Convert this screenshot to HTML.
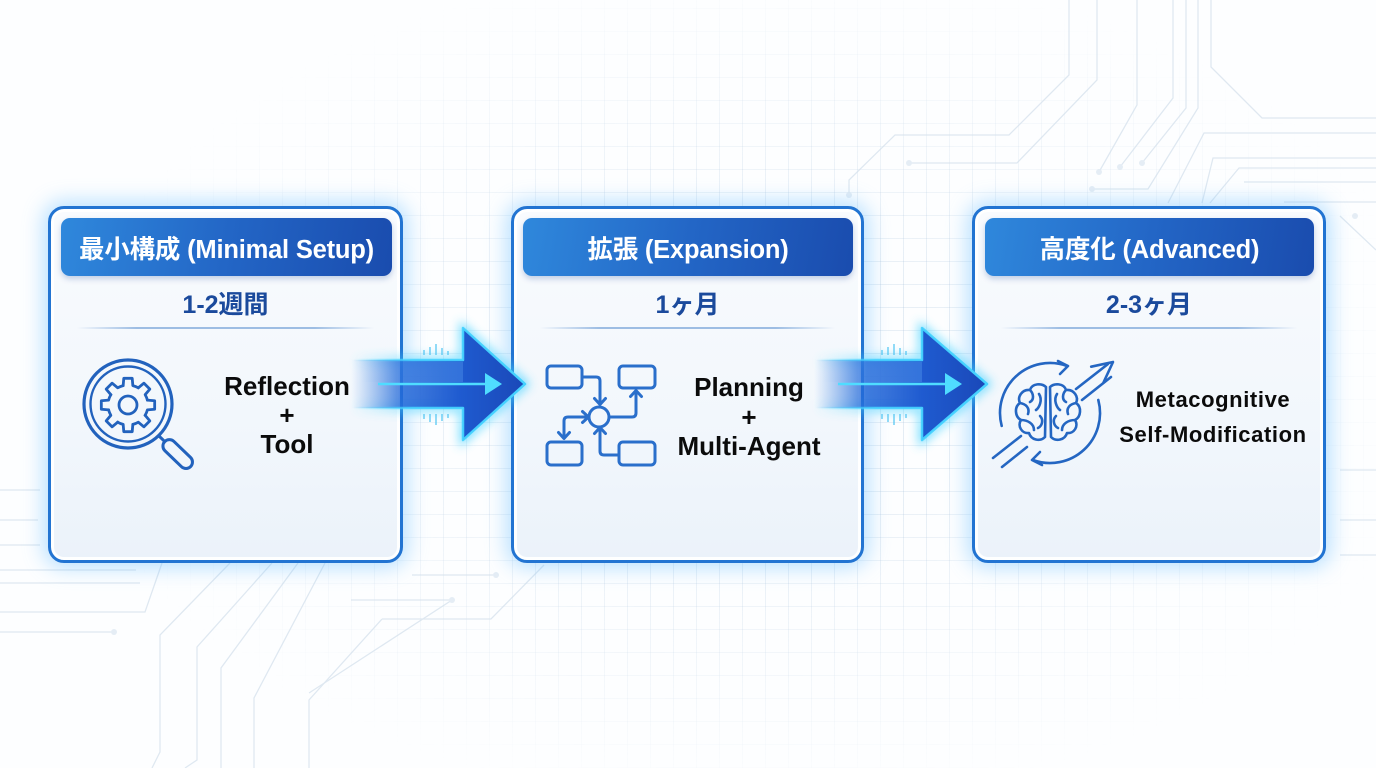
<!DOCTYPE html>
<html><head><meta charset="utf-8">
<style>
*{margin:0;padding:0;box-sizing:border-box}
html,body{width:1376px;height:768px;overflow:hidden;background:#fdfeff}
body{position:relative;font-family:"Liberation Sans","Noto Sans CJK JP",sans-serif}
.grid{position:absolute;left:0;top:0;width:1376px;height:768px;
background-image:linear-gradient(to right,rgba(160,188,215,.26) 1px,transparent 1px),linear-gradient(to bottom,rgba(160,188,215,.22) 1px,transparent 1px);
background-size:23px 23px;background-position:6px 8px;
-webkit-mask-image:radial-gradient(ellipse 50% 55% at 55% 50%,#000 30%,transparent 100%);
mask-image:radial-gradient(ellipse 50% 55% at 55% 50%,#000 30%,transparent 100%);}
.card{position:absolute;top:206px;height:357px;border:3px solid #2274d2;border-radius:16px;
background:linear-gradient(180deg,#f9fbfe 0%,#f2f7fc 60%,#ebf2fa 100%);
box-shadow:0 0 20px 5px rgba(95,185,255,.42),inset 0 0 0 3px rgba(255,255,255,.95);}
.hdr{position:absolute;top:9px;height:58px;border-radius:9px;
background:linear-gradient(100deg,#2f88dc 0%,#2366c6 50%,#1a4cae 100%);
box-shadow:0 3px 6px rgba(30,80,160,.25);
color:#fff;font-weight:bold;font-size:25.5px;display:flex;align-items:center;justify-content:center;white-space:nowrap;letter-spacing:-.2px}
.sub{position:absolute;left:0;right:0;top:81px;height:30px;line-height:30px;text-align:center;color:#1b4a9c;font-weight:bold;font-size:25px;font-family:"Liberation Sans","Noto Sans CJK JP",sans-serif}
.div{position:absolute;left:26px;right:26px;top:118px;height:2px;background:linear-gradient(90deg,rgba(150,185,225,0),#9dbde3 20%,#9dbde3 80%,rgba(150,185,225,0))}
.txt{position:absolute;text-align:center;color:#0b0b0b;font-weight:bold;white-space:nowrap}
</style></head><body>
<div class="grid"></div>

<svg width="1376" height="768" style="position:absolute;left:0;top:0;opacity:.7" fill="none" stroke="#d3e0ec" stroke-width="1.3">
<polyline points="1069,0 1069,75 1009,135 895,135 849,180 849,195"/>
<polyline points="1097,0 1097,80 1017,163 909,163"/>
<polyline points="1137,0 1137,105 1099,172"/>
<polyline points="1173,0 1173,98 1120,167"/>
<polyline points="1186,0 1186,108 1142,163"/>
<polyline points="1198,0 1198,108 1148,189 1092,189"/>
<polyline points="1211,0 1211,67 1262,118 1376,118"/>
<polyline points="1376,133 1204,133 1168,203"/>
<polyline points="1376,158 1213,158 1202,203"/>
<polyline points="1376,168 1239,168 1210,203"/>
<polyline points="1376,182 1244,182"/>
<polyline points="1376,202 1284,202"/>
<polyline points="1340,216 1376,250"/>
<polyline points="325,563 254,698 254,768"/>
<polyline points="298,563 221,668 221,768"/>
<polyline points="272,563 197,647 197,760 185,768"/>
<polyline points="230,563 160,635 160,752 152,768"/>
<polyline points="162,563 145,612 0,612"/>
<polyline points="136,570 0,570"/>
<polyline points="140,583 0,583"/>
<polyline points="114,632 0,632"/>
<polyline points="412,575 496,575"/>
<polyline points="351,600 452,600 309,693"/>
<polyline points="382,619 491,619 544,565"/>
<polyline points="382,619 309,700 309,768"/>
<polyline points="0,490 40,490"/>
<polyline points="0,520 38,520"/>
<polyline points="0,545 40,545"/>
<polyline points="1340,470 1376,470"/>
<polyline points="1340,520 1376,520"/>
<polyline points="1340,555 1376,555"/>
<g fill="#dbe6f1" stroke="none">
<circle cx="849" cy="195" r="3"/><circle cx="909" cy="163" r="3"/><circle cx="1099" cy="172" r="3"/><circle cx="1120" cy="167" r="3"/><circle cx="1142" cy="163" r="3"/><circle cx="1092" cy="189" r="3"/><circle cx="114" cy="632" r="3"/><circle cx="496" cy="575" r="3"/><circle cx="452" cy="600" r="3"/><circle cx="1355" cy="216" r="3"/>
</g>
</svg>

<div class="card" style="left:48px;width:355px">
  <div class="hdr" style="left:10px;width:331px">最小構成 (Minimal Setup)</div>
  <div class="sub">1-2週間</div>
  <div class="div"></div>
</div>
<div class="card" style="left:511px;width:353px">
  <div class="hdr" style="left:9px;width:330px">拡張 (Expansion)</div>
  <div class="sub">1ヶ月</div>
  <div class="div"></div>
</div>
<div class="card" style="left:972px;width:354px">
  <div class="hdr" style="left:10px;width:329px">高度化 (Advanced)</div>
  <div class="sub">2-3ヶ月</div>
  <div class="div"></div>
</div>

<div class="txt" style="left:187px;width:200px;top:372px;font-size:26px;line-height:29px">Reflection<br>+<br>Tool</div>
<div class="txt" style="left:649px;width:200px;top:373px;font-size:26px;line-height:29.5px">Planning<br>+<br>Multi-Agent</div>
<div class="txt" style="left:1093px;width:240px;top:382px;font-size:22px;line-height:35px;letter-spacing:.6px">Metacognitive<br>Self-Modification</div>

<svg width="1376" height="768" style="position:absolute;left:0;top:0" fill="none" stroke-linecap="round" stroke-linejoin="round">
<g stroke="#2262bd">
<circle cx="128" cy="404" r="44" stroke-width="3.2"/>
<circle cx="128" cy="404" r="37.5" stroke-width="2.4"/>
<g transform="translate(128,405)" stroke-width="2.8">
<path d="M19.41,-4.84 L26.67,-4.22 L26.67,4.22 L19.41,4.84 A20,20 0 0 1 17.14,10.30" transform="rotate(0)"/>
<path d="M19.41,-4.84 L26.67,-4.22 L26.67,4.22 L19.41,4.84 A20,20 0 0 1 17.14,10.30" transform="rotate(45)"/>
<path d="M19.41,-4.84 L26.67,-4.22 L26.67,4.22 L19.41,4.84 A20,20 0 0 1 17.14,10.30" transform="rotate(90)"/>
<path d="M19.41,-4.84 L26.67,-4.22 L26.67,4.22 L19.41,4.84 A20,20 0 0 1 17.14,10.30" transform="rotate(135)"/>
<path d="M19.41,-4.84 L26.67,-4.22 L26.67,4.22 L19.41,4.84 A20,20 0 0 1 17.14,10.30" transform="rotate(180)"/>
<path d="M19.41,-4.84 L26.67,-4.22 L26.67,4.22 L19.41,4.84 A20,20 0 0 1 17.14,10.30" transform="rotate(225)"/>
<path d="M19.41,-4.84 L26.67,-4.22 L26.67,4.22 L19.41,4.84 A20,20 0 0 1 17.14,10.30" transform="rotate(270)"/>
<path d="M19.41,-4.84 L26.67,-4.22 L26.67,4.22 L19.41,4.84 A20,20 0 0 1 17.14,10.30" transform="rotate(315)"/>
<circle cx="0" cy="0" r="9"/>
</g>
<g transform="translate(159,436) rotate(44)" stroke-width="3">
<line x1="0" y1="0" x2="8" y2="0"/>
<rect x="8" y="-6.5" width="36" height="13" rx="6.5"/>
</g>
</g>

<g stroke="#2a6fcb" stroke-width="3">
<rect x="547" y="366" width="35" height="22" rx="4"/>
<rect x="619" y="366" width="36" height="22" rx="4"/>
<rect x="547" y="442" width="35" height="23" rx="4"/>
<rect x="619" y="442" width="36" height="23" rx="4"/>
<circle cx="599" cy="417" r="10"/>
<path d="M582,377 H596 Q600,377 600,381 V404"/>
<path d="M594.5,398.5 L600,404.5 L605.5,398.5"/>
<path d="M609,417 H632 Q636,417 636,413 V391"/>
<path d="M630.5,396.5 L636,390.5 L641.5,396.5"/>
<path d="M589,417 H568 Q564,417 564,421 V438"/>
<path d="M558.5,432.5 L564,438.5 L569.5,432.5"/>
<path d="M582.5,411.5 L588.5,417 L582.5,422.5"/>
<path d="M619,455 H604 Q600,455 600,451 V428"/>
<path d="M594.5,433.5 L600,427.5 L605.5,433.5"/>
</g>

<g stroke="#2466c2" stroke-width="2.6">
<path d="M1001.7,425.9 A50,50 0 0 1 1067.1,366"/>
<path d="M1058,361 L1068,366 L1060,374"/>
<path d="M1098.3,400 A50,50 0 0 1 1032.9,460"/>
<path d="M1042,465 L1032,460 L1040,452"/>
<line x1="993" y1="458" x2="1021" y2="436"/>
<line x1="1002" y1="467" x2="1027" y2="447"/>
<line x1="1076" y1="389" x2="1108" y2="364"/>
<line x1="1082" y1="400" x2="1111" y2="377"/>
<path d="M1091.2,366.7 L1113,362 L1103.6,382.3"/>
<g transform="translate(1048,412)">
<path d="M-2,-25 C-6,-29 -16,-29 -18,-22 C-26,-23 -31,-15 -28,-9 C-34,-5 -33,5 -27,8 C-31,14 -26,22 -19,21 C-17,28 -8,30 -3,25 Z"/>
<path d="M-18,-22 C-14,-18 -14,-12 -18,-10 M-28,-9 C-22,-8 -18,-4 -20,2 M-27,8 C-20,8 -14,12 -14,18 M-9,-18 C-5,-12 -9,-4 -12,-2 M-8,4 C-4,8 -6,14 -10,16"/>
<g transform="scale(-1,1)">
<path d="M-2,-25 C-6,-29 -16,-29 -18,-22 C-26,-23 -31,-15 -28,-9 C-34,-5 -33,5 -27,8 C-31,14 -26,22 -19,21 C-17,28 -8,30 -3,25 Z"/>
<path d="M-18,-22 C-14,-18 -14,-12 -18,-10 M-28,-9 C-22,-8 -18,-4 -20,2 M-27,8 C-20,8 -14,12 -14,18 M-9,-18 C-5,-12 -9,-4 -12,-2 M-8,4 C-4,8 -6,14 -10,16"/>
</g>
</g>
</g>
</svg>

<svg width="1376" height="768" style="position:absolute;left:0;top:0">
<defs>
<linearGradient id="f1" gradientUnits="userSpaceOnUse" x1="352" y1="0" x2="525" y2="0">
<stop offset="0" stop-color="#2a78e0" stop-opacity="0"/>
<stop offset="0.3" stop-color="#2368d8" stop-opacity="0.85"/>
<stop offset="0.62" stop-color="#1f5bd0"/>
<stop offset="1" stop-color="#1a48b8"/>
</linearGradient>
<linearGradient id="e1" gradientUnits="userSpaceOnUse" x1="352" y1="0" x2="525" y2="0">
<stop offset="0" stop-color="#45d2ff" stop-opacity="0"/>
<stop offset="0.35" stop-color="#45d2ff" stop-opacity="0.9"/>
<stop offset="1" stop-color="#45d2ff"/>
</linearGradient>
<linearGradient id="f2" gradientUnits="userSpaceOnUse" x1="815" y1="0" x2="987" y2="0">
<stop offset="0" stop-color="#2a78e0" stop-opacity="0"/>
<stop offset="0.3" stop-color="#2368d8" stop-opacity="0.85"/>
<stop offset="0.62" stop-color="#1f5bd0"/>
<stop offset="1" stop-color="#1a48b8"/>
</linearGradient>
<linearGradient id="e2" gradientUnits="userSpaceOnUse" x1="815" y1="0" x2="987" y2="0">
<stop offset="0" stop-color="#45d2ff" stop-opacity="0"/>
<stop offset="0.35" stop-color="#45d2ff" stop-opacity="0.9"/>
<stop offset="1" stop-color="#45d2ff"/>
</linearGradient>
<linearGradient id="b1" gradientUnits="userSpaceOnUse" x1="360" y1="0" x2="463" y2="0">
<stop offset="0" stop-color="#5aa0f0" stop-opacity="0"/>
<stop offset="1" stop-color="#5aa0f0" stop-opacity="0.35"/>
</linearGradient>
<linearGradient id="b2" gradientUnits="userSpaceOnUse" x1="822" y1="0" x2="922" y2="0">
<stop offset="0" stop-color="#5aa0f0" stop-opacity="0"/>
<stop offset="1" stop-color="#5aa0f0" stop-opacity="0.35"/>
</linearGradient>
<filter id="gl" x="-30%" y="-30%" width="160%" height="160%"><feGaussianBlur stdDeviation="5"/></filter>
<filter id="gs" x="-30%" y="-30%" width="160%" height="160%"><feGaussianBlur stdDeviation="2"/></filter>
</defs>
<polygon points="352,360 463,360 463,328 525,384 463,440 463,408 352,408" fill="none" stroke="url(#e1)" stroke-width="7" filter="url(#gl)" opacity="0.8"/>
<polygon points="352,360 463,360 463,328 525,384 463,440 463,408 352,408" fill="url(#f1)" stroke="url(#e1)" stroke-width="2.5" stroke-linejoin="round"/>
<rect x="360" y="362" width="103" height="20" fill="url(#b1)"/>
<line x1="378" y1="384" x2="490" y2="384" stroke="#47d6ff" stroke-width="4" filter="url(#gs)"/>
<line x1="378" y1="384" x2="490" y2="384" stroke="#4fdcff" stroke-width="2.5"/>
<polygon points="485,373 502,384 485,395" fill="#4fdcff"/>
<g stroke="#4cc4f2" stroke-width="2" opacity="0.6">
<line x1="424" y1="350" x2="424" y2="355"/><line x1="430" y1="347" x2="430" y2="355"/><line x1="436" y1="344" x2="436" y2="355"/><line x1="442" y1="348" x2="442" y2="355"/><line x1="448" y1="351" x2="448" y2="355"/>
<line x1="424" y1="414" x2="424" y2="419"/><line x1="430" y1="414" x2="430" y2="422"/><line x1="436" y1="414" x2="436" y2="425"/><line x1="442" y1="414" x2="442" y2="421"/><line x1="448" y1="414" x2="448" y2="418"/>
</g>
<polygon points="815,360 922,360 922,328 987,384 922,440 922,408 815,408" fill="none" stroke="url(#e2)" stroke-width="7" filter="url(#gl)" opacity="0.8"/>
<polygon points="815,360 922,360 922,328 987,384 922,440 922,408 815,408" fill="url(#f2)" stroke="url(#e2)" stroke-width="2.5" stroke-linejoin="round"/>
<rect x="822" y="362" width="100" height="20" fill="url(#b2)"/>
<line x1="838" y1="384" x2="950" y2="384" stroke="#47d6ff" stroke-width="4" filter="url(#gs)"/>
<line x1="838" y1="384" x2="950" y2="384" stroke="#4fdcff" stroke-width="2.5"/>
<polygon points="945,373 962,384 945,395" fill="#4fdcff"/>
<g stroke="#4cc4f2" stroke-width="2" opacity="0.6">
<line x1="882" y1="350" x2="882" y2="355"/><line x1="888" y1="347" x2="888" y2="355"/><line x1="894" y1="344" x2="894" y2="355"/><line x1="900" y1="348" x2="900" y2="355"/><line x1="906" y1="351" x2="906" y2="355"/>
<line x1="882" y1="414" x2="882" y2="419"/><line x1="888" y1="414" x2="888" y2="422"/><line x1="894" y1="414" x2="894" y2="425"/><line x1="900" y1="414" x2="900" y2="421"/><line x1="906" y1="414" x2="906" y2="418"/>
</g>
</svg>
</body></html>
